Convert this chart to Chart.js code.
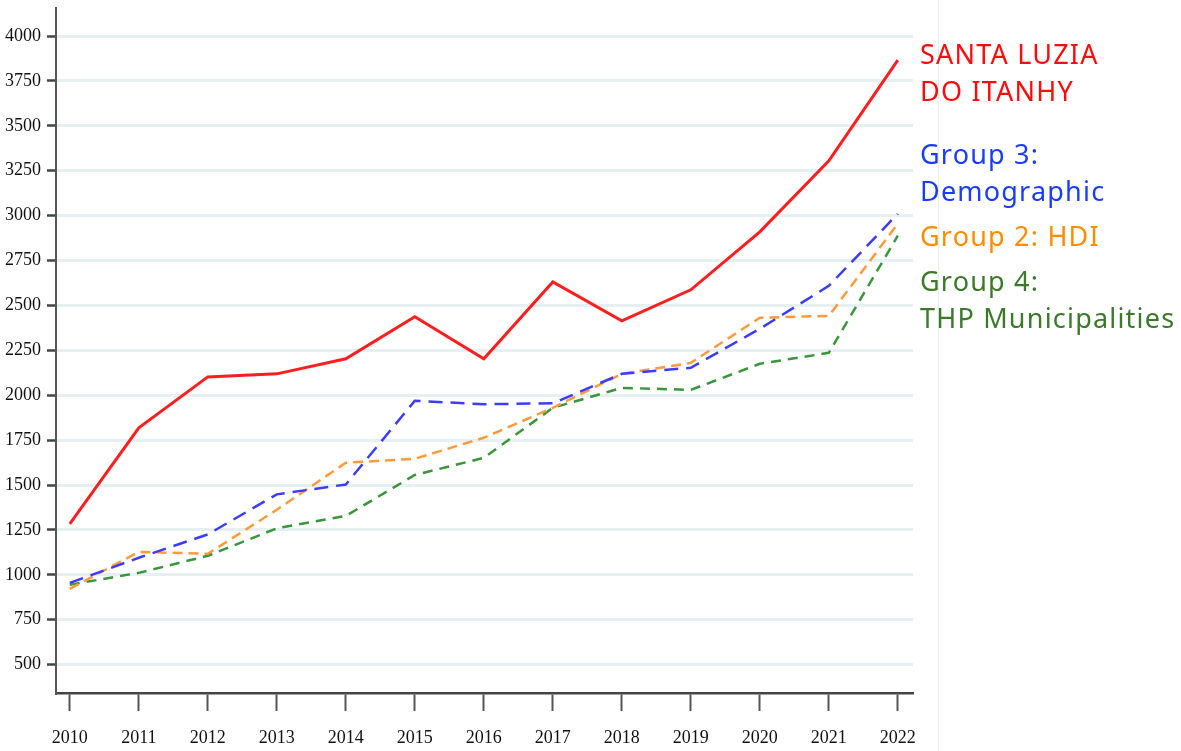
<!DOCTYPE html>
<html lang="en">
<head>
  <meta charset="UTF-8" />
  <title>Evolution 2010-2022</title>
  <style>
    body {
      margin: 0;
      background-color: white;
      width: 1181px;
      height: 751px;
      overflow: hidden;
      position: relative;
    }
    .chart-box {
      position: absolute;
      left: 0;
      top: 0;
      width: 938px;
      height: 751px;
      border-right: 1px solid #ececec;
    }
    .labels {
      position: absolute;
      left: 920px;
      top: 35px;
      font-family: "Noto Sans", sans-serif;
      font-size: 27px;
      letter-spacing: 1.2px;
      line-height: 37px;
    }
    .labels div { white-space: nowrap; }
  </style>
</head>
<body>
  <div class="chart-box">
    <canvas id="chart" width="938" height="751"></canvas>
  </div>
  <div class="labels">
    <div style="color:#ff0a0a">SANTA LUZIA<br>DO ITANHY</div>
    <div style="color:#1a3cff; margin-top:26px">Group 3:<br>Demographic</div>
    <div style="color:#ff8c00; margin-top:8px">Group 2: HDI</div>
    <div style="color:#3b7a2a; margin-top:8px">Group 4:<br>THP Municipalities</div>
  </div>

  <script src="https://cdn.jsdelivr.net/npm/chart.js"></script>
  <script>
    const years = [2010, 2011, 2012, 2013, 2014, 2015, 2016, 2017, 2018, 2019, 2020, 2021, 2022];
    const yTicks = [500, 750, 1000, 1250, 1500, 1750, 2000, 2250, 2500, 2750, 3000, 3250, 3500, 3750, 4000];

    const santaLuzia = [1284, 1818, 2102, 2119, 2203, 2437, 2203, 2631, 2414, 2587, 2910, 3305, 3866];
    const group3 = [955, 1095, 1225, 1448, 1503, 1969, 1950, 1955, 2119, 2153, 2370, 2609, 3010];
    const group2 = [922, 1128, 1117, 1362, 1624, 1646, 1763, 1930, 2119, 2180, 2431, 2442, 2955];
    const group4 = [945, 1011, 1106, 1259, 1328, 1556, 1651, 1930, 2041, 2030, 2175, 2236, 2888];

    function pts(values) {
      return years.map((y, i) => ({ x: y, y: values[i] }));
    }

    const tickFont = { family: 'Liberation Serif', size: 18 };

    new Chart(document.getElementById('chart'), {
      type: 'line',
      data: {
        datasets: [
          { label: 'SANTA LUZIA DO ITANHY', data: pts(santaLuzia), borderColor: '#ff1e1e', borderWidth: 3 },
          { label: 'Group 3: Demographic', data: pts(group3), borderColor: '#3c3cff', borderWidth: 2.5, borderDash: [14, 8] },
          { label: 'Group 2: HDI', data: pts(group2), borderColor: '#ff9a3a', borderWidth: 2.5, borderDash: [10, 6] },
          { label: 'Group 4: THP Municipalities', data: pts(group4), borderColor: '#3a963a', borderWidth: 2.5, borderDash: [10, 7] }
        ]
      },
      options: {
        responsive: false,
        animation: false,
        pointRadius: 0,
        tension: 0,
        layout: { padding: { top: 8, right: 25, left: 0, bottom: 0 } },
        plugins: {
          legend: { display: false },
          tooltip: { enabled: false }
        },
        scales: {
          x: {
            type: 'linear',
            min: 2009.8,
            max: 2022.22,
            afterBuildTicks: s => { s.ticks = years.map(v => ({ value: v })); },
            afterFit: s => { s.height = 58; },
            ticks: { font: tickFont, color: '#111', padding: 16, maxRotation: 0, callback: v => String(v) },
            grid: { drawOnChartArea: false, tickLength: 18, tickColor: '#555', tickWidth: 2 },
            border: { color: '#444', width: 2.5 }
          },
          y: {
            min: 342,
            max: 4156,
            afterBuildTicks: s => { s.ticks = yTicks.map(v => ({ value: v })); },
            afterFit: s => { s.width = 56; s.paddingTop = 0; s.paddingBottom = 0; },
            ticks: { font: tickFont, color: '#111', padding: 6, callback: v => String(v) },
            grid: { color: '#e6eff1', lineWidth: 3, tickLength: 9, tickColor: '#444', tickWidth: 2.5 },
            border: { color: '#555', width: 2 }
          }
        }
      }
    });
  </script>
</body>
</html>
